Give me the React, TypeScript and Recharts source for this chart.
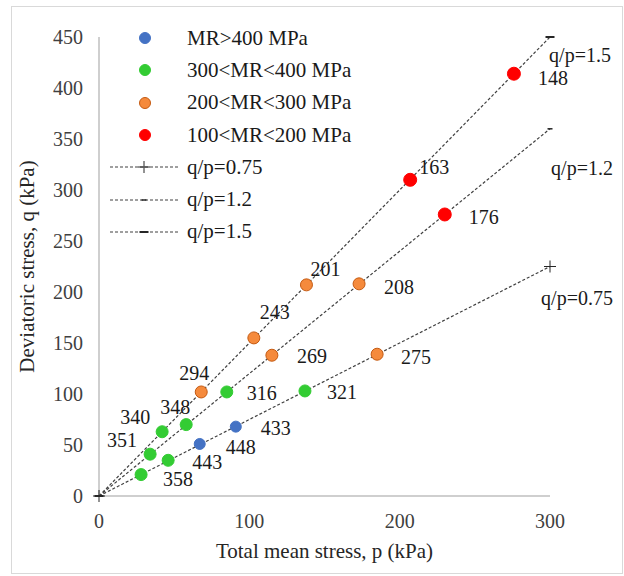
import React from 'react'
import { ScatterChart, Scatter, XAxis, YAxis, Legend, Label } from 'recharts'

const FONT = '"Liberation Serif", "Times New Roman", serif'

// sample points: p = total mean stress, q = deviatoric stress (kPa), id = MR value
const mrAbove400 = [
  { p: 67, q: 51, id: '448' },
  { p: 91, q: 68, id: '433' }
]
const mr300to400 = [
  { p: 28, q: 21, id: '358' },
  { p: 46, q: 35, id: '443' },
  { p: 34, q: 41, id: '351' },
  { p: 42, q: 63, id: '340' },
  { p: 58, q: 70, id: '348' },
  { p: 85, q: 102, id: '316' },
  { p: 137, q: 103, id: '321' }
]
const mr200to300 = [
  { p: 68, q: 102, id: '294' },
  { p: 115, q: 138, id: '269' },
  { p: 103, q: 155, id: '243' },
  { p: 138, q: 207, id: '201' },
  { p: 173, q: 208, id: '208' },
  { p: 185, q: 139, id: '275' }
]
const mr100to200 = [
  { p: 207, q: 310, id: '163' },
  { p: 230, q: 276, id: '176' },
  { p: 276, q: 414, id: '148' }
]

const ratios = [0.75, 1.2, 1.5]
const pRange = [0, 300]
const xTicks = [0, 100, 200, 300]
const yTicks = [0, 50, 100, 150, 200, 250, 300, 350, 400, 450]

// where each point's number sits relative to the marker
const LABEL_OFFSETS: Record<string, [number, number]> = {
  '148': [39, 4], '163': [24, -13], '176': [39, 3], '208': [40, 3], '275': [39, 3],
  '201': [19, -16], '243': [21, -26], '269': [40, 1], '294': [-7, -19], '316': [35, 1],
  '321': [37, 1], '340': [-27, -15], '348': [-11, -18], '351': [-28, -14], '358': [37, 4],
  '443': [39, 2], '448': [41, 3], '433': [40, 1]
}
const END_LABEL_OFFSETS: Record<string, [number, number]> = {
  'q/p=0.75': [27, 31], 'q/p=1.2': [32, 39], 'q/p=1.5': [30, 18]
}

const groups = [
  { name: 'MR>400 MPa', data: mrAbove400, fill: '#4472C4', stroke: '#4472C4', r: 5.5 },
  { name: '300<MR<400 MPa', data: mr300to400, fill: '#33CC33', stroke: '#33CC33', r: 6 },
  { name: '200<MR<300 MPa', data: mr200to300, fill: '#F58A3C', stroke: '#C55A11', r: 6 },
  { name: '100<MR<200 MPa', data: mr100to200, fill: '#FF0000', stroke: '#FF0000', r: 6.5 }
]

const lines = ratios.map((k) => {
  const name = `q/p=${k}`
  return {
    name,
    ratio: k,
    data: pRange.map((p, i) => ({ p, q: p * k, end: i === pRange.length - 1 ? name : '' }))
  }
})

const Marker = ({ ratio, x, y }: { ratio: number; x: number; y: number }) => {
  if (ratio === 0.75) {
    return (
      <g stroke="#262626" strokeWidth={1}>
        <line x1={x - 6} x2={x + 6} y1={y} y2={y} />
        <line x1={x} x2={x} y1={y - 6} y2={y + 6} />
      </g>
    )
  }
  const half = ratio === 1.2 ? 2.5 : 4.5
  return <line x1={x - half} x2={x + half} y1={y} y2={y} stroke="#262626" strokeWidth={ratio === 1.2 ? 1.5 : 2} />
}

const dotShape = (g: (typeof groups)[number]) => (props: any) => {
  const { cx, cy, payload } = props
  const [dx, dy] = LABEL_OFFSETS[payload.id] ?? [38, 3]
  return (
    <g>
      <circle cx={cx} cy={cy} r={g.r} fill={g.fill} stroke={g.stroke} strokeWidth={1} />
      <text x={cx + dx} y={cy + dy} textAnchor="middle" dominantBaseline="central"
        fontFamily={FONT} fontSize={20} fill="#1a1a1a">
        {payload.id}
      </text>
    </g>
  )
}

const lineShape = (ratio: number) => (props: any) => {
  const { cx, cy, payload } = props
  const off = END_LABEL_OFFSETS[payload.end]
  return (
    <g>
      <Marker ratio={ratio} x={cx} y={cy} />
      {payload.end && off && (
        <text x={cx + off[0]} y={cy + off[1]} textAnchor="middle" dominantBaseline="central"
          fontFamily={FONT} fontSize={20} fill="#1a1a1a">
          {payload.end}
        </text>
      )}
    </g>
  )
}

const renderLegend = () => (
  <div style={{ fontFamily: FONT, fontSize: 21, color: '#1a1a1a', lineHeight: 1 }}>
    {groups.map((g) => (
      <div key={g.name} style={{ display: 'flex', alignItems: 'center', height: 32.3 }}>
        <svg width={72} height={20}>
          <circle cx={37} cy={10} r={5.5} fill={g.fill} stroke={g.stroke} />
        </svg>
        <span style={{ marginLeft: 7 }}>{g.name}</span>
      </div>
    ))}
    {lines.map((l) => (
      <div key={l.name} style={{ display: 'flex', alignItems: 'center', height: 32.3 }}>
        <svg width={72} height={20}>
          <line x1={2} x2={70} y1={10} y2={10} stroke="#404040" strokeWidth={1.2} strokeDasharray="3 2" />
          <Marker ratio={l.ratio} x={36} y={10} />
        </svg>
        <span style={{ marginLeft: 7 }}>{l.name}</span>
      </div>
    ))}
  </div>
)

export default function App() {
  return (
    <div style={{ position: 'absolute', left: 0, top: 0, width: 624, height: 576, background: '#fff', fontFamily: FONT }}>
      <div style={{ position: 'absolute', left: 11, top: 6, width: 610, height: 566, border: '1px solid #d9d9d9' }} />
      <ScatterChart width={624} height={576} margin={{ top: 37, right: 74, bottom: 0, left: 0 }}
        style={{ fontFamily: FONT }}>
        <XAxis type="number" dataKey="p" domain={[0, 300]} ticks={xTicks} tickLine={false} height={80}
          axisLine={{ stroke: '#bfbfbf', strokeWidth: 1.5 }} tickMargin={12}
          tick={{ fill: '#404040', fontSize: 20, fontFamily: FONT }}>
          <Label content={({ viewBox }: any) => (
            <text x={viewBox.x + viewBox.width / 2} y={viewBox.y + 55} textAnchor="middle"
              dominantBaseline="central" fontFamily={FONT} fontSize={21} fill="#262626">
              Total mean stress, p (kPa)
            </text>
          )} />
        </XAxis>
        <YAxis type="number" dataKey="q" domain={[0, 450]} ticks={yTicks} width={99} tickLine={false}
          axisLine={{ stroke: '#bfbfbf', strokeWidth: 1.5 }} tickMargin={10}
          tick={{ fill: '#404040', fontSize: 20, fontFamily: FONT }}>
          <Label content={({ viewBox }: any) => {
            const x = viewBox.x + 27
            const y = viewBox.y + viewBox.height / 2
            return (
              <text x={x} y={y} transform={`rotate(-90 ${x} ${y})`} textAnchor="middle"
                dominantBaseline="central" fontFamily={FONT} fontSize={21} fill="#262626">
                Deviatoric stress, q (kPa)
              </text>
            )
          }} />
        </YAxis>
        {lines.map((l) => (
          <Scatter key={l.name} name={l.name} data={l.data} isAnimationActive={false}
            line={{ stroke: '#404040', strokeWidth: 1.2, strokeDasharray: '3 2' }} lineType="joint"
            shape={lineShape(l.ratio)} legendType="none" />
        ))}
        {groups.map((g) => (
          <Scatter key={g.name} name={g.name} data={g.data} isAnimationActive={false} shape={dotShape(g)} />
        ))}
        <Legend layout="vertical" align="center" verticalAlign="middle" content={renderLegend}
          wrapperStyle={{ left: 108, top: 22, width: 260 }} />
      </ScatterChart>
    </div>
  )
}
